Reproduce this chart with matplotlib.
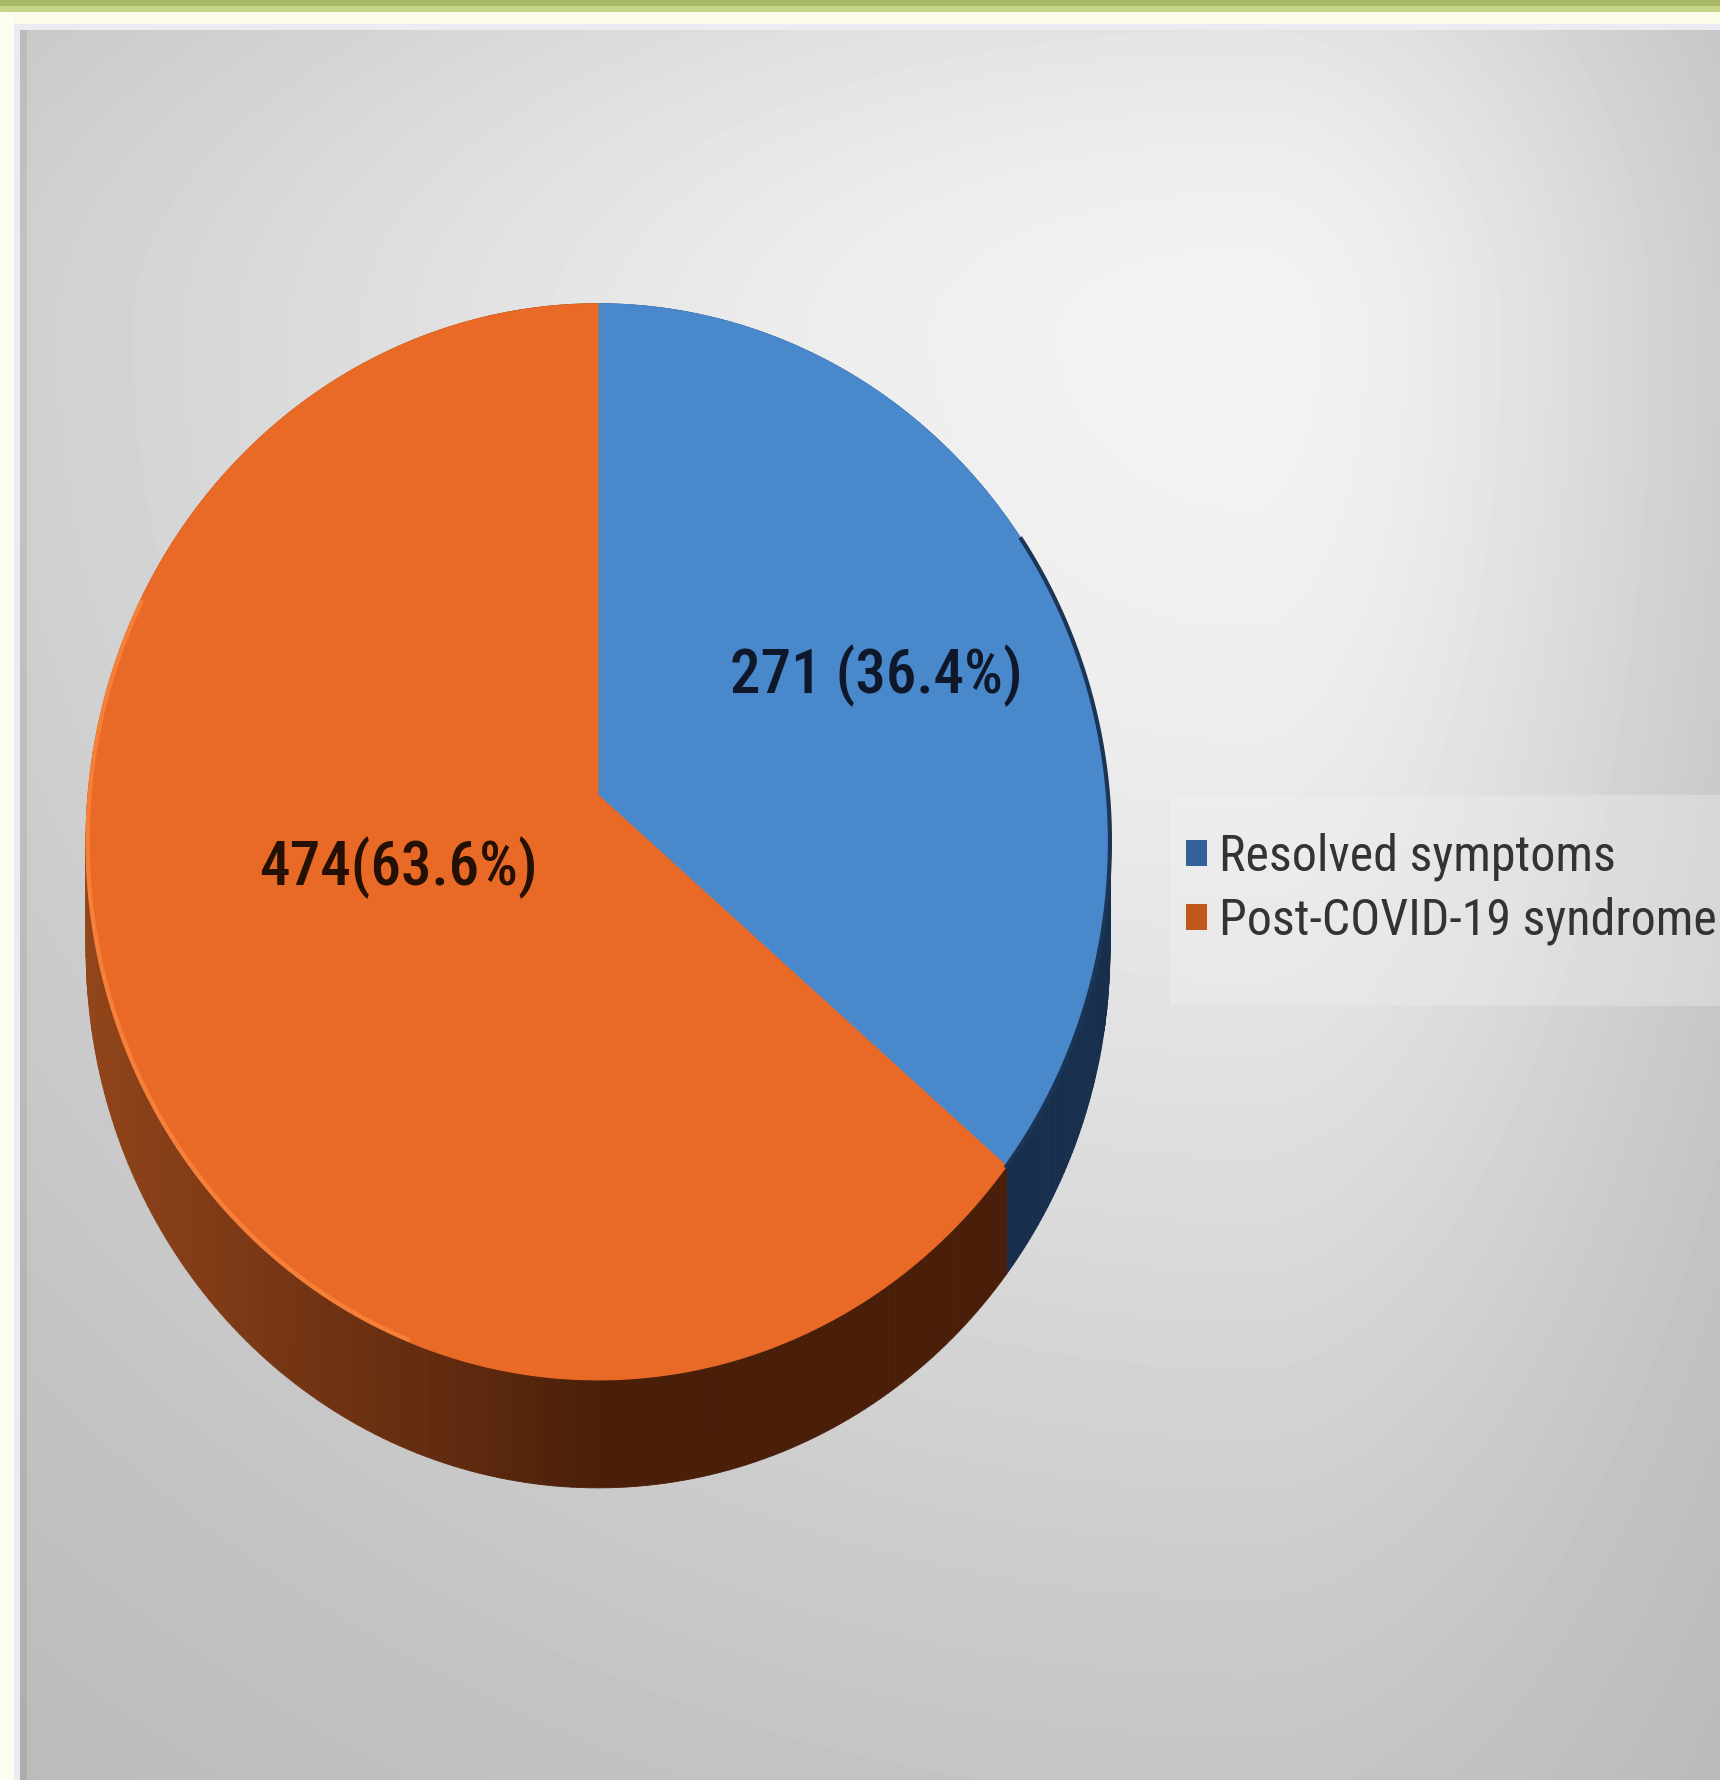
import numpy as np
import matplotlib
matplotlib.use('Agg')
import matplotlib.pyplot as plt
from matplotlib import font_manager
from matplotlib.font_manager import FontProperties
from matplotlib.patches import Polygon, Rectangle, Patch
from matplotlib.collections import PolyCollection

# slice data
categories = ['Resolved symptoms', 'Post-COVID-19 syndrome']
counts = [271, 474]
slice_labels = ['271 (36.4%)', '474(63.6%)']

top_colors = ['#4a88cc', '#e96a26']
side_dark = ['#172f4d', '#4a1f0a']
side_light = ['#24466f', '#93451a']
legend_colors = ['#33629a', '#c0581c']
label_colors = ['#0f182a', '#241005']

W, H = 1720, 1780
# pie placement in pixel space (tilted disc)
CX, CY = 598, 795
A, B, C = 510, 534, 0.087
DEPTH = 108


def project(t, r=1.0):
    # t measured clockwise from 12 o'clock
    u, v = r * np.sin(t), r * np.cos(t)
    den = 1 + C * v
    return CX + A * u / den, CY - B * v / den


def narrow_family():
    fonts = font_manager.fontManager.ttflist
    names = {f.name for f in fonts}
    for name in ['Liberation Sans Narrow', 'Roboto Condensed', 'DejaVu Sans Condensed',
                 'Open Sans Condensed']:
        if name in names:
            return name, 'normal'
    for f in fonts:
        if f.name in ('Liberation Sans', 'Roboto', 'Open Sans', 'DejaVu Sans') and \
                f.stretch in ('condensed', 'semi-condensed', 'extra-condensed'):
            return f.name, f.stretch
    return 'Liberation Sans', 'normal'


FAMILY, STRETCH = narrow_family()


def fit_font(fig, text, cap_px, width_px, weight='normal'):
    # size from cap height, shrunk if the string comes out wider than wanted
    size = cap_px / 0.72 * 72 / 100
    fp = FontProperties(family=FAMILY, stretch=STRETCH, size=size, weight=weight)
    t = fig.text(0, 0, text, fontproperties=fp)
    w = t.get_window_extent(fig.canvas.get_renderer()).width
    t.remove()
    if w > width_px:
        size = size * width_px / w
    return FontProperties(family=FAMILY, stretch=STRETCH, size=size, weight=weight)


fig = plt.figure(figsize=(W / 100, H / 100), dpi=100)
ax = fig.add_axes([0, 0, 1, 1])
ax.set_xlim(0, W)
ax.set_ylim(H, 0)
ax.axis('off')

# frame strips
ax.add_patch(Rectangle((0, 0), W, 6, color='#a8b968', lw=0))
ax.add_patch(Rectangle((0, 6), W, 6, color='#c6d58a', lw=0))
ax.add_patch(Rectangle((0, 12), W, 12, color='#fbfbe8', lw=0))
ax.add_patch(Rectangle((0, 24), W, 6, color='#ebebf3', lw=0))
ax.add_patch(Rectangle((0, 12), 14, H, color='#fdfdf0', lw=0))
ax.add_patch(Rectangle((14, 24), 6, H, color='#ebebf3', lw=0))

# grey radial backdrop
gx = np.arange(20, W)
gy = np.arange(30, H)
X, Y = np.meshgrid(gx, gy)
dx = X - 1250.0
lx = np.where(dx > 0, 500.0, 1400.0)
ly = np.where(Y > 330, 1300.0, 600.0)
d2 = (dx / lx) ** 2 + ((Y - 330.0) / ly) ** 2
shade = 0.70 + 0.25 * np.exp(-d2)
ax.imshow(shade, cmap='gray', vmin=0, vmax=1, extent=(20, W, H, 30),
          interpolation='bilinear', aspect='auto', zorder=0)
ax.add_patch(Rectangle((20, 30), 7, H, color='black', alpha=0.07, lw=0, zorder=1))

fractions = np.array(counts) / sum(counts)
edges = np.concatenate([[0], np.cumsum(fractions)]) * 2 * np.pi

# side walls
for i in range(len(counts)):
    t = np.linspace(edges[i], edges[i + 1], 240)
    x, y = project(t)
    quads, cols = [], []
    dark = np.array(matplotlib.colors.to_rgb(side_dark[i]))
    light = np.array(matplotlib.colors.to_rgb(side_light[i]))
    for k in range(len(t) - 1):
        quads.append([(x[k], y[k]), (x[k + 1], y[k + 1]),
                      (x[k + 1], y[k + 1] + DEPTH), (x[k], y[k] + DEPTH)])
        s = np.clip(-np.sin(0.5 * (t[k] + t[k + 1])), 0, 1) ** 0.9
        cols.append(dark + (light - dark) * s)
    ax.add_collection(PolyCollection(quads, facecolors=cols, edgecolors=cols,
                                     linewidths=0.6, zorder=2))

# top faces
for i in range(len(counts)):
    t = np.linspace(edges[i], edges[i + 1], 300)
    x, y = project(t)
    pts = np.column_stack([np.r_[CX, x], np.r_[CY, y]])
    ax.add_patch(Polygon(pts, closed=True, facecolor=top_colors[i],
                         edgecolor=top_colors[i], lw=0.8, zorder=3))

# rim highlight and dark edge
t = np.linspace(np.radians(200), np.radians(292), 120)
hx, hy = project(t, 0.997)
ax.plot(hx, hy, color='#ff9046', lw=3, alpha=0.6, zorder=4,
        solid_capstyle='round')
t = np.linspace(np.radians(60), edges[1], 120)
ex, ey = project(t)
ax.plot(ex, ey, color='#1c3554', lw=3, zorder=4)

# slice labels
label_pos = [(876, 676), (398, 868)]
label_caps = [60, 54]
label_widths = [293, 279]
for i, lab in enumerate(slice_labels):
    fp = fit_font(fig, lab, label_caps[i], label_widths[i], weight='medium')
    ax.text(label_pos[i][0], label_pos[i][1], lab, fontproperties=fp,
            color=label_colors[i], ha='center', va='center', zorder=5)

# legend
ax.add_patch(Rectangle((1169, 795), 560, 210, facecolor='#f2f2f2', alpha=0.35,
                       edgecolor='#e2e2e2', lw=1, zorder=4))
fp_leg = fit_font(fig, categories[1], 44, 498)
fs_px = fp_leg.get_size_in_points() * 100 / 72
handles = [Patch(facecolor=c, edgecolor='none') for c in legend_colors]
leg = ax.legend(handles, categories, prop=fp_leg, loc='center left',
                bbox_to_anchor=(1186, 889), bbox_transform=ax.transData,
                frameon=False, borderaxespad=0, borderpad=0,
                handlelength=21 / fs_px, handleheight=21 / fs_px,
                handletextpad=12 / fs_px,
                labelspacing=max(0.0, (74 - 1.17 * fs_px) / fs_px))
leg.set_zorder(6)
for txt in leg.get_texts():
    txt.set_color('#333333')

fig.savefig('out.png', dpi=100)
